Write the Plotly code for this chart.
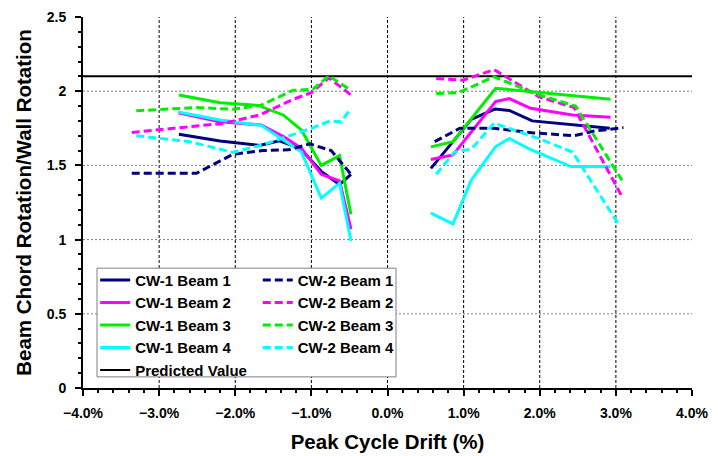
import plotly.graph_objects as go

# drift (%) and rotation ratio per beam; None splits negative / positive cycles
cw1_b1_x = [-2.74, -2.2, -1.68, -1.42, -1.15, -0.87, -0.63, -0.48, None, 0.57, 0.86, 1.10, 1.41, 1.60, 1.90, 2.92]
cw1_b1_y = [1.71, 1.665, 1.635, 1.665, 1.615, 1.46, 1.37, 1.44, None, 1.48, 1.66, 1.81, 1.88, 1.87, 1.80, 1.75]
cw1_b2_x = [-2.75, -2.22, -1.66, -1.35, -1.13, -0.87, -0.63, -0.48, None, 0.57, 0.86, 1.42, 1.60, 1.88, 2.43, 2.93]
cw1_b2_y = [1.855, 1.795, 1.772, 1.69, 1.615, 1.44, 1.395, 1.07, None, 1.54, 1.57, 1.93, 1.95, 1.885, 1.84, 1.825]
cw1_b3_x = [-2.74, -2.2, -1.7, -1.37, -1.13, -0.87, -0.63, -0.48, None, 0.57, 0.86, 1.42, 1.85, 2.93]
cw1_b3_y = [1.975, 1.922, 1.904, 1.84, 1.738, 1.50, 1.566, 1.17, None, 1.625, 1.66, 2.02, 2.0, 1.946]
cw1_b4_x = [-2.75, -2.2, -1.66, -1.37, -1.13, -0.87, -0.63, -0.48, None, 0.57, 0.86, 1.10, 1.42, 1.60, 1.86, 2.41, 2.93]
cw1_b4_y = [1.86, 1.806, 1.77, 1.67, 1.59, 1.28, 1.38, 0.99, None, 1.178, 1.106, 1.40, 1.626, 1.682, 1.612, 1.492, 1.492]

cw2_b1_x = [-3.36, -2.51, -2.03, -1.63, -1.3, -1.02, -0.74, -0.48, None, 0.62, 0.95, 1.40, 1.90, 2.45, 2.70, 3.10]
cw2_b1_y = [1.447, 1.447, 1.575, 1.60, 1.605, 1.645, 1.60, 1.44, None, 1.66, 1.75, 1.75, 1.72, 1.70, 1.73, 1.755]
cw2_b2_x = [-3.36, -2.75, -2.16, -1.68, -1.24, -1.0, -0.77, -0.48, None, 0.64, 0.99, 1.40, 1.99, 2.45, 3.08]
cw2_b2_y = [1.722, 1.755, 1.783, 1.84, 1.945, 1.99, 2.09, 1.975, None, 2.085, 2.074, 2.145, 1.962, 1.89, 1.29]
cw2_b3_x = [-3.3, -2.51, -2.03, -1.66, -1.24, -0.98, -0.77, -0.48, None, 0.64, 0.93, 1.40, 1.99, 2.47, 3.08]
cw2_b3_y = [1.868, 1.89, 1.878, 1.906, 2.006, 2.013, 2.103, 2.006, None, 1.985, 1.99, 2.097, 1.975, 1.90, 1.40]
cw2_b4_x = [-3.3, -2.6, -2.03, -1.63, -1.0, -0.76, -0.61, -0.48, None, 0.64, 0.88, 1.10, 1.40, 1.99, 2.43, 3.04]
cw2_b4_y = [1.70, 1.66, 1.588, 1.64, 1.75, 1.799, 1.794, 1.884, None, 1.44, 1.59, 1.61, 1.785, 1.68, 1.59, 1.10]

predicted_x = [-4, 4]
predicted_y = [2.1, 2.1]

x_grid = [-3, -2, -1, 0, 1, 2, 3]
y_grid = [0.5, 1.0, 1.5, 2.0]

font_family = "Liberation Sans, Arial, sans-serif"

fig = go.Figure()

# grid drawn as shapes so nothing appears on the top / right edges
for gx in x_grid:
    fig.add_shape(type='line', xref='x', yref='paper', x0=gx, x1=gx, y0=0, y1=1, layer='below',
                  line=dict(color='black', width=1, dash='3px,2px'))
for gy in y_grid:
    fig.add_shape(type='line', xref='paper', yref='y', x0=0, x1=1, y0=gy, y1=gy, layer='below',
                  line=dict(color='#808080', width=1, dash='2px,2px'))

cw1 = [('CW-1 Beam 1', cw1_b1_x, cw1_b1_y, '#000080'),
       ('CW-1 Beam 2', cw1_b2_x, cw1_b2_y, '#FF00FF'),
       ('CW-1 Beam 3', cw1_b3_x, cw1_b3_y, '#00EE00'),
       ('CW-1 Beam 4', cw1_b4_x, cw1_b4_y, '#00FFFF')]
cw2 = [('CW-2 Beam 1', cw2_b1_x, cw2_b1_y, '#000080'),
       ('CW-2 Beam 2', cw2_b2_x, cw2_b2_y, '#FF00FF'),
       ('CW-2 Beam 3', cw2_b3_x, cw2_b3_y, '#00EE00'),
       ('CW-2 Beam 4', cw2_b4_x, cw2_b4_y, '#00FFFF')]

for name, x, y, c in cw1:
    fig.add_trace(go.Scatter(x=x, y=y, mode='lines', name=name, legend='legend', legendgroup=name,
                             line=dict(color=c, width=3)))
fig.add_trace(go.Scatter(x=predicted_x, y=predicted_y, mode='lines', name='Predicted Value', legend='legend',
                         legendgroup='pred', line=dict(color='black', width=2)))
for name, x, y, c in cw2:
    fig.add_trace(go.Scatter(x=x, y=y, mode='lines', name=name, legend='legend2', legendgroup=name,
                             line=dict(color=c, width=3, dash='8px,4px')))

# white box behind both legend columns
fig.add_shape(type='rect', xref='paper', yref='paper', x0=0.023, x1=0.514, y0=0.030, y1=0.323,
              fillcolor='white', line=dict(color='#808080', width=1), layer='above')

leg = dict(font=dict(family=font_family, size=15, color='black', weight='bold'), bgcolor='rgba(0,0,0,0)',
           borderwidth=0, tracegroupgap=0, xanchor='left', yanchor='top', itemwidth=30)
fig.update_layout(
    legend=dict(leg, x=0.02, y=0.335),
    legend2=dict(leg, x=0.287, y=0.335),
)

fig.update_xaxes(range=[-4, 4], dtick=1, tickformat='.1f', ticksuffix='%', automargin=False,
                 showline=True, linecolor='black', linewidth=2, ticklabeloverflow='allow',
                 ticks='outside', ticklen=6, tickwidth=1.5, tickcolor='black', ticklabelstandoff=5,
                 minor=dict(dtick=0.2, ticks='outside', ticklen=3, tickcolor='black', showgrid=False),
                 showgrid=False, zeroline=False,
                 tickfont=dict(family=font_family, size=14, color='black', weight='bold'),
                 title=dict(text='Peak Cycle Drift (%)', standoff=15,
                            font=dict(family=font_family, size=20.5, color='black', weight='bold')))
fig.update_yaxes(range=[0, 2.5], dtick=0.5, automargin=False,
                 showline=True, linecolor='black', linewidth=2, ticklabeloverflow='allow',
                 ticks='outside', ticklen=6, tickwidth=1.5, tickcolor='black', ticklabelstandoff=6,
                 minor=dict(dtick=0.1, ticks='outside', ticklen=3, tickcolor='black', showgrid=False),
                 showgrid=False, zeroline=False,
                 tickfont=dict(family=font_family, size=14, color='black', weight='bold'),
                 title=dict(text='Beam Chord Rotation/Wall Rotation', standoff=10,
                            font=dict(family=font_family, size=20.5, color='black', weight='bold')))

# the page keeps an 8px body margin, so the figure is 8px smaller each way
fig.update_layout(width=710, height=448, margin=dict(l=75, r=26, t=9, b=68),
                  plot_bgcolor='white', paper_bgcolor='white', showlegend=True)

fig.write_html("out.html")
